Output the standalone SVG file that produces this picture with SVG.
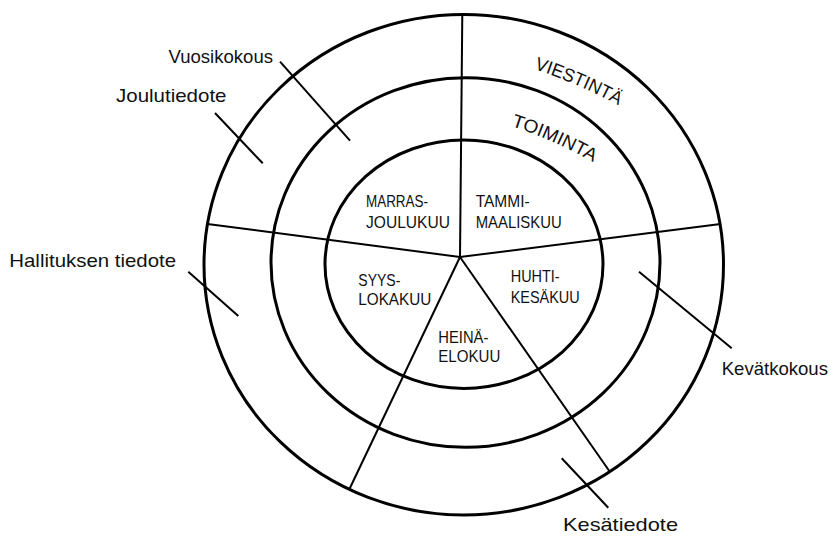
<svg xmlns="http://www.w3.org/2000/svg" width="831" height="536" viewBox="0 0 831 536">
<style>
.ring{fill:none;stroke:#000;stroke-width:3}
.spoke{stroke:#000;stroke-width:2;fill:none}
.tick{stroke:#000;stroke-width:2;fill:none}
.lbl{font-family:"Liberation Sans",Arial,sans-serif;font-size:18.5px;fill:#111}
.in{font-family:"Liberation Sans",Arial,sans-serif;font-size:16.5px;fill:#111}
.arc{font-family:"Liberation Sans",Arial,sans-serif;font-size:18.5px;fill:#111}
</style>
<defs>
<path id="pV" d="M534,69 Q586.6,86.4 628,111"/>
<path id="pT" d="M511,126 Q555,140 600,166"/>
</defs>
<rect width="831" height="536" fill="#fff"/>
<g id="rings">
<ellipse class="ring" cx="463.75" cy="264.7" rx="259.75" ry="250.3"/>
<ellipse class="ring" cx="465.5" cy="262.5" rx="194.5" ry="184.8"/>
<ellipse class="ring" cx="464" cy="264.2" rx="139" ry="124.2"/>
</g>
<g id="connectors">
<line class="spoke" x1="460" y1="257" x2="462.3" y2="14.5"/>
<line class="spoke" x1="460" y1="257" x2="207.5" y2="224"/>
<line class="spoke" x1="460" y1="257" x2="720.5" y2="224"/>
<line class="spoke" x1="460" y1="257" x2="349" y2="490"/>
<line class="spoke" x1="460" y1="257" x2="610" y2="472"/>
<line class="tick" x1="280" y1="61.7" x2="350" y2="140.7"/>
<line class="tick" x1="215" y1="113" x2="262.7" y2="163.3"/>
<line class="tick" x1="188.3" y1="271.7" x2="238.3" y2="316"/>
<line class="tick" x1="639" y1="271.7" x2="731.7" y2="348.3"/>
<line class="tick" x1="561.7" y1="458.3" x2="608.3" y2="507.7"/>
</g>
<g id="viestinta"><text class="arc"><textPath href="#pV" textLength="92" lengthAdjust="spacingAndGlyphs">VIESTINTÄ</textPath></text></g>
<g id="toiminta"><text class="arc"><textPath href="#pT" textLength="90" lengthAdjust="spacingAndGlyphs">TOIMINTA</textPath></text></g>
<g id="marras"><text class="in" x="366" y="207.3" textLength="62" lengthAdjust="spacingAndGlyphs">MARRAS-</text><text class="in" x="366" y="228.3" textLength="84" lengthAdjust="spacingAndGlyphs">JOULUKUU</text></g>
<g id="tammi"><text class="in" x="475.7" y="207.3" textLength="54" lengthAdjust="spacingAndGlyphs">TAMMI-</text><text class="in" x="475.7" y="228.3" textLength="86" lengthAdjust="spacingAndGlyphs">MAALISKUU</text></g>
<g id="syys"><text class="in" x="358.3" y="285.7" textLength="42" lengthAdjust="spacingAndGlyphs">SYYS-</text><text class="in" x="358.3" y="305" textLength="73" lengthAdjust="spacingAndGlyphs">LOKAKUU</text></g>
<g id="huhti"><text class="in" x="510.7" y="282.3" textLength="49" lengthAdjust="spacingAndGlyphs">HUHTI-</text><text class="in" x="510.7" y="302.7" textLength="69" lengthAdjust="spacingAndGlyphs">KESÄKUU</text></g>
<g id="heina"><text class="in" x="438.3" y="342.7" textLength="50" lengthAdjust="spacingAndGlyphs">HEINÄ-</text><text class="in" x="438.3" y="362.3" textLength="62" lengthAdjust="spacingAndGlyphs">ELOKUU</text></g>
<g id="vuosikokous"><text class="lbl" x="168.5" y="62.7" textLength="104.5" lengthAdjust="spacingAndGlyphs">Vuosikokous</text></g>
<g id="joulutiedote"><text class="lbl" x="116" y="101.7" textLength="110.5" lengthAdjust="spacingAndGlyphs">Joulutiedote</text></g>
<g id="hallituksen"><text class="lbl" x="9.3" y="266.7" textLength="166.7" lengthAdjust="spacingAndGlyphs">Hallituksen tiedote</text></g>
<g id="kevatkokous"><text class="lbl" x="721.7" y="375" textLength="106.3" lengthAdjust="spacingAndGlyphs">Kevätkokous</text></g>
<g id="kesatiedote"><text class="lbl" x="563" y="531" textLength="115" lengthAdjust="spacingAndGlyphs">Kesätiedote</text></g>
</svg>
